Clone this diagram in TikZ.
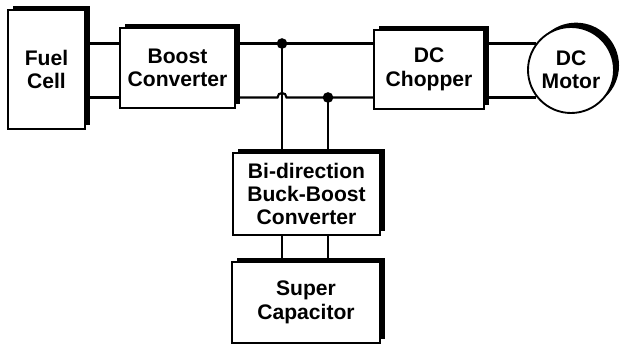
\documentclass[tikz,border=0pt]{standalone}
\usepackage{fontspec}
\setmainfont{Liberation Sans}
\usepackage{tikz}
\usetikzlibrary{shadows}

\begin{document}
\begin{tikzpicture}[x=0.03cm, y=-0.03cm,
    block/.style={draw, line width=1.6pt, fill=white, align=center,
        font=\bfseries\fontsize{18}{20}\selectfont,
        general shadow={fill=black, shadow xshift=0.15cm, shadow yshift=0.13cm}},
    wire/.style={line width=1.8pt},
    dot/.style={circle, fill=black, inner sep=0pt, minimum size=0.32cm}]

% Canvas
\useasboundingbox (0,0) rectangle (623,347);

% Blocks
\node[block, minimum width=2.31cm, minimum height=3.57cm] (fuel) at (46.5,69.5) {Fuel\\Cell};
\node[block, minimum width=3.45cm, minimum height=2.4cm] (boost) at (177.5,68) {Boost\\Converter};
\node[block, minimum width=3.3cm, minimum height=2.37cm] (chopper) at (429,69.5) {DC\\Chopper};
\node[block, circle, minimum size=2.58cm, inner sep=0pt] (motor) at (571,70) {DC\\Motor};
\node[block, minimum width=4.41cm, minimum height=2.46cm] (bidir) at (306.5,194) {Bi-direction\\Buck-Boost\\Converter};
\node[block, minimum width=4.44cm, minimum height=2.43cm] (cap) at (306,302.5) {Super\\Capacitor};

% Bus levels and junctions
\coordinate (hi) at (0,43.5);
\coordinate (lo) at (0,97.5);
\coordinate (j1) at (282,43.5);
\coordinate (j2) at (328,97.5);
\coordinate (hopL) at (277.5,97.5);
\coordinate (hopR) at (286.5,97.5);

% Wires
\foreach \lv in {hi,lo} {
    \draw[wire] (fuel.east |- \lv) -- (boost.west |- \lv);
}
\draw[wire] (chopper.east |- hi) -- (motor.142 |- hi);
\draw[wire] (chopper.east |- lo) -- (motor.218 |- lo);
\draw[wire] (boost.east |- hi) -- (chopper.west |- hi);
\draw[wire] (boost.east |- lo) -- (hopL) .. controls +(0,-6) and +(0,-6) .. (hopR) -- (chopper.west |- lo);

% Links to the storage branch
\foreach \j in {j1,j2} {
    \draw[wire] (\j) -- (\j |- bidir.north);
    \draw[wire] (\j |- bidir.south) -- (\j |- cap.north);
}

% Junction dots
\node[dot] (d1) at (j1) {};
\node[dot] (d2) at (j2) {};

\end{tikzpicture}
\end{document}
